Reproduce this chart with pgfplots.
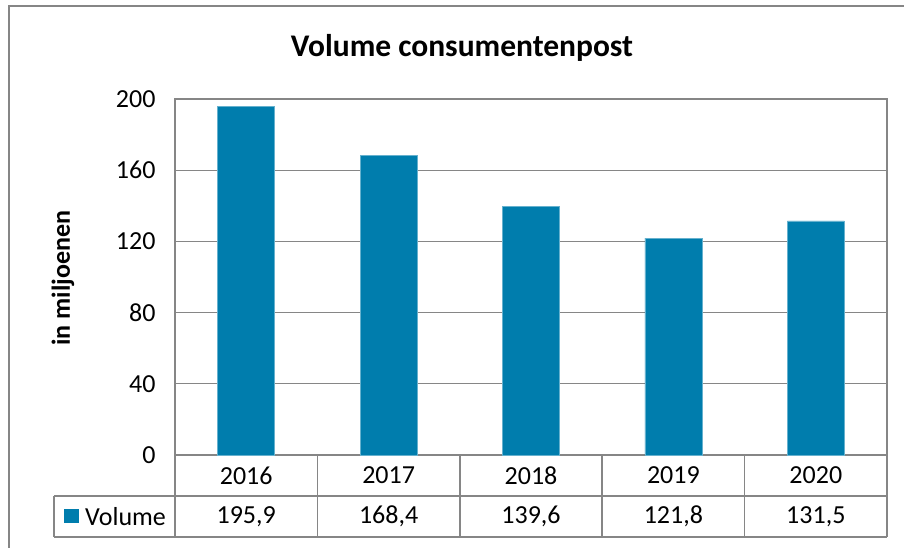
\documentclass[border=0pt]{standalone}
\usepackage{pgfplots}
\pgfplotsset{compat=1.18}
\usepackage{fontspec}
\setmainfont{Carlito}
\definecolor{barblue}{RGB}{0,125,173}
\definecolor{bordgray}{RGB}{134,134,134}
\begin{document}
\begin{tikzpicture}[x=1pt,y=1pt]
\useasboundingbox (0,0) rectangle (904,548);
% outer chart border (left and top visible)
\draw[bordgray,line width=2pt] (9,0) -- (9,542) -- (904,542);
\begin{axis}[
  at={(175pt,93pt)}, anchor=south west,
  scale only axis, width=712pt, height=356pt,
  xmin=-0.5, xmax=4.5, ymin=0, ymax=200,
  ytick={0,40,...,200}, xtick=\empty,
  ymajorgrids, grid style={bordgray,line width=1pt},
  axis line style={bordgray,line width=1.2pt},
  major tick length=0pt,
  yticklabel style={font=\fontsize{26}{31}\selectfont, xshift=-16pt},
  /pgf/number format/assume math mode=true,
  clip=false,
]
\addplot[ybar, bar width=57pt, fill=barblue, draw=barblue!60!white, line width=0.6pt]
  coordinates {(0,195.9) (1,168.4) (2,139.6) (3,121.8) (4,131.5)};
\end{axis}
% title and y label
\node[font=\bfseries\fontsize{31.5}{36}\selectfont] at (462,500) {Volume consumentenpost};
\node[font=\bfseries\fontsize{26}{31}\selectfont, rotate=90] at (63,270) {in miljoenen};
% data table
\begin{scope}[bordgray, line width=1.5pt]
\draw (175,93) -- (175,11);
\draw (54,52) -- (887,52);
\draw (54,11) -- (887,11);
\draw (54,52) -- (54,11);
\foreach \xx in {317.4,459.8,602.2,744.6,887} {\draw (\xx,93) -- (\xx,11);}
\end{scope}
\foreach \yr [count=\i from 0] in {2016,2017,2018,2019,2020}
  {\node[font=\fontsize{26}{31}\selectfont] at ({246.2+142.4*\i},72.5) {\yr};}
\foreach \v [count=\i from 0] in {195,9;168,4;139,6;121,8;131,5}
  {}
\node[font=\fontsize{26}{31}\selectfont] at (246.2,31.5) {195,9};
\node[font=\fontsize{26}{31}\selectfont] at (388.6,31.5) {168,4};
\node[font=\fontsize{26}{31}\selectfont] at (531.0,31.5) {139,6};
\node[font=\fontsize{26}{31}\selectfont] at (673.4,31.5) {121,8};
\node[font=\fontsize{26}{31}\selectfont] at (815.8,31.5) {131,5};
\fill[barblue] (64,25) rectangle (79,39);
\node[font=\fontsize{26}{31}\selectfont, anchor=west, inner sep=0pt] at (85,31.5) {Volume};
\end{tikzpicture}
\end{document}
